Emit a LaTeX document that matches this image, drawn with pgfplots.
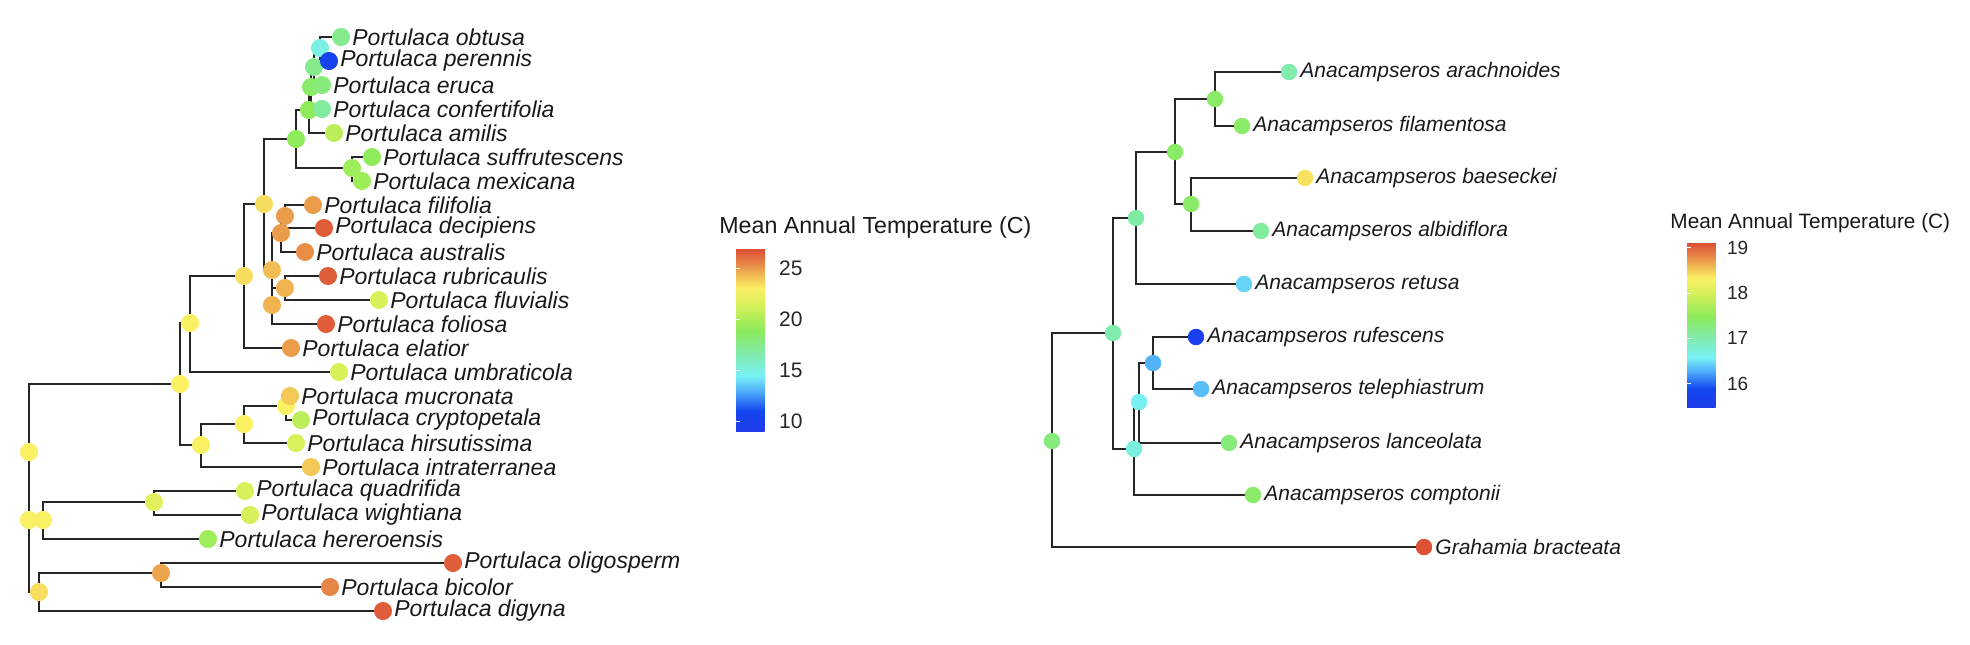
\documentclass[border=0pt]{standalone}
\usepackage{pgfplots}
\pgfplotsset{compat=1.18}
\usepackage{fontspec}
\setmainfont{Liberation Sans}
\pgfplotsset{colormap={temp}{rgb255(0)=(30,60,235) rgb255(11)=(20,70,240) rgb255(22)=(80,175,250) rgb255(30)=(120,240,245) rgb255(44)=(130,235,160) rgb255(55)=(140,235,90) rgb255(69)=(215,240,90) rgb255(78)=(250,240,100) rgb255(86)=(240,180,80) rgb255(92)=(230,130,70) rgb255(100)=(220,75,50)}}
\newcommand{\edge}[4]{\addplot[draw=black!85, line width=1pt] coordinates {(#1,#2) (#1,#4) (#3,#4)};}
\pgfplotsset{base/.style={scale only axis, width=985pt, height=322pt, xmin=0, xmax=1970, ymin=0, ymax=644, y dir=reverse, hide axis, clip=false, colormap name=temp,
  colorbar, colorbar style={scale only axis, at={(parent axis.north west)}, anchor=north west, axis line style={draw=none}, tick style={white, line width=0.5pt}, major tick length=2pt, ytick pos=both, yticklabel pos=right, /pgf/number format/assume math mode=true}}}
\begin{document}
\begin{tikzpicture}
\useasboundingbox (0,0) rectangle (985pt,322pt);
% ---------- left tree ----------
\begin{axis}[base, point meta min=9.05, point meta max=27,
  colorbar style={xshift=359.5pt, yshift=-124pt, width=18pt, height=91.5pt, ytick={10,15,20,25}, yticklabel style={font=\fontsize{10.5}{12}\selectfont, text=black!85}}]
\edge{320}{48}{341}{37}\edge{320}{48}{329}{61}
\edge{314}{67}{320}{48}\edge{314}{67}{322}{85}
\edge{311}{87}{314}{67}\edge{311}{87}{322}{109}
\edge{309}{110}{311}{87}\edge{309}{110}{334}{133}
\edge{296}{139}{309}{110}\edge{296}{139}{352}{168}
\edge{352}{168}{372}{157}\edge{352}{168}{362}{181}
\edge{264}{204}{296}{139}\edge{264}{204}{272}{270}
\edge{272}{270}{281}{233}\edge{272}{270}{272}{305}
\edge{281}{233}{285}{216}\edge{281}{233}{305}{252}
\edge{285}{216}{313}{205}\edge{285}{216}{324}{228}
\edge{272}{305}{285}{288}\edge{272}{305}{326}{324}
\edge{285}{288}{328}{276}\edge{285}{288}{379}{300}
\edge{244}{276}{264}{204}\edge{244}{276}{291}{348}
\edge{190}{323}{244}{276}\edge{190}{323}{339}{372}
\edge{180}{384}{190}{323}\edge{180}{384}{201}{445}
\edge{201}{445}{244}{424}\edge{201}{445}{311}{467}
\edge{244}{424}{286}{406}\edge{244}{424}{296}{443}
\edge{286}{406}{290}{396}\edge{286}{406}{301}{420}
\edge{29}{520}{180}{384}\edge{29}{520}{43}{520}\edge{29}{520}{39}{592}
\edge{43}{520}{154}{502}\edge{43}{520}{208}{539}
\edge{154}{502}{245}{491}\edge{154}{502}{250}{515}
\edge{39}{592}{161}{573}\edge{39}{592}{383}{611}
\edge{161}{573}{453}{563}\edge{161}{573}{330}{587}
\addplot[scatter, only marks, mark=*, mark size=4.3pt, scatter src=explicit,
  scatter/use mapped color={draw=mapped color, fill=mapped color}] table[meta=c] {
x y c
320 48 15
314 67 17.5
311 87 18.5
309 110 19
296 139 19
352 168 19.5
264 204 23.5
272 270 24.3
281 233 25
285 216 25
272 305 24.5
285 288 24.5
244 276 23.5
190 323 23
180 384 23
201 445 23
244 424 23
286 406 23
29 452 23
29 520 23
43 520 23
39 592 23.5
154 502 22
161 573 24.8
341 37 17.5
329 61 10.5
322 85 18
322 109 17
334 133 20.5
372 157 19
362 181 19.5
313 205 25
324 228 26.5
305 252 25.3
328 276 26.5
379 300 21.5
326 324 26.5
291 348 25
339 372 21.5
290 396 24
301 420 20.5
296 443 21.5
311 467 24
245 491 21.5
250 515 21.5
208 539 19.5
453 563 26.5
330 587 25.5
383 611 26.5
};
\begin{scope}[every node/.style={anchor=west, font=\fontsize{11.5}{13}\selectfont\itshape, text=black!90, inner sep=0pt}]
\node at (axis cs:352,37) {Portulaca obtusa};
\node at (axis cs:340,61) {Portulaca perennis};
\node at (axis cs:333,85) {Portulaca eruca};
\node at (axis cs:333,109) {Portulaca confertifolia};
\node at (axis cs:345,133) {Portulaca amilis};
\node at (axis cs:383,157) {Portulaca suffrutescens};
\node at (axis cs:373,181) {Portulaca mexicana};
\node at (axis cs:324,205) {Portulaca filifolia};
\node at (axis cs:335,228) {Portulaca decipiens};
\node at (axis cs:316,252) {Portulaca australis};
\node at (axis cs:339,276) {Portulaca rubricaulis};
\node at (axis cs:390,300) {Portulaca fluvialis};
\node at (axis cs:337,324) {Portulaca foliosa};
\node at (axis cs:302,348) {Portulaca elatior};
\node at (axis cs:350,372) {Portulaca umbraticola};
\node at (axis cs:301,396) {Portulaca mucronata};
\node at (axis cs:312,420) {Portulaca cryptopetala};
\node at (axis cs:307,443) {Portulaca hirsutissima};
\node at (axis cs:322,467) {Portulaca intraterranea};
\node at (axis cs:256,491) {Portulaca quadrifida};
\node at (axis cs:261,515) {Portulaca wightiana};
\node at (axis cs:219,539) {Portulaca hereroensis};
\node at (axis cs:464,563) {Portulaca oligosperm};
\node at (axis cs:341,587) {Portulaca bicolor};
\node at (axis cs:394,611) {Portulaca digyna};
\end{scope}
\node[anchor=west, inner sep=0pt, font=\fontsize{11.6}{13}\selectfont, text=black!90] at (axis cs:719,227) {Mean Annual Temperature (C)};
\end{axis}
% ---------- right tree ----------
\begin{axis}[base, point meta min=15.48, point meta max=19.13,
  colorbar style={xshift=835pt, yshift=-121pt, width=16.5pt, height=82.5pt, ytick={16,17,18,19}, yticklabel style={font=\fontsize{9.5}{11}\selectfont, text=black!85}}]
\edge{1215}{99}{1289}{72}\edge{1215}{99}{1242}{126}
\edge{1191}{204}{1305}{178}\edge{1191}{204}{1261}{231}
\edge{1175}{152}{1215}{99}\edge{1175}{152}{1191}{204}
\edge{1136}{218}{1175}{152}\edge{1136}{218}{1244}{284}
\edge{1153}{363}{1196}{337}\edge{1153}{363}{1201}{389}
\edge{1139}{402}{1153}{363}\edge{1139}{402}{1229}{443}
\edge{1134}{449}{1139}{402}\edge{1134}{449}{1253}{495}
\edge{1113}{333}{1136}{218}\edge{1113}{333}{1134}{449}
\edge{1052}{441}{1113}{333}\edge{1052}{441}{1424}{547}
\addplot[scatter, only marks, mark=*, mark size=3.9pt, scatter src=explicit,
  scatter/use mapped color={draw=mapped color, fill=mapped color}] table[meta=c] {
x y c
1215 99 17.4
1191 204 17.4
1175 152 17.4
1136 218 17.05
1153 363 16.3
1139 402 16.6
1134 449 16.7
1113 333 17.0
1052 441 17.3
1289 72 17.0
1242 126 17.4
1305 178 18.4
1261 231 17.1
1244 284 16.45
1196 337 15.6
1201 389 16.35
1229 443 17.3
1253 495 17.4
1424 547 19.1
};
\begin{scope}[every node/.style={anchor=west, font=\fontsize{10.5}{12}\selectfont\itshape, text=black!90, inner sep=0pt}]
\node at (axis cs:1300,72) {Anacampseros arachnoides};
\node at (axis cs:1253,126) {Anacampseros filamentosa};
\node at (axis cs:1316,178) {Anacampseros baeseckei};
\node at (axis cs:1272,231) {Anacampseros albidiflora};
\node at (axis cs:1255,284) {Anacampseros retusa};
\node at (axis cs:1207,337) {Anacampseros rufescens};
\node at (axis cs:1212,389) {Anacampseros telephiastrum};
\node at (axis cs:1240,443) {Anacampseros lanceolata};
\node at (axis cs:1264,495) {Anacampseros comptonii};
\node at (axis cs:1435,547) {Grahamia bracteata};
\end{scope}
\node[anchor=west, inner sep=0pt, font=\fontsize{10.4}{12}\selectfont, text=black!90] at (axis cs:1670,223) {Mean Annual Temperature (C)};
\end{axis}
\end{tikzpicture}
\end{document}
